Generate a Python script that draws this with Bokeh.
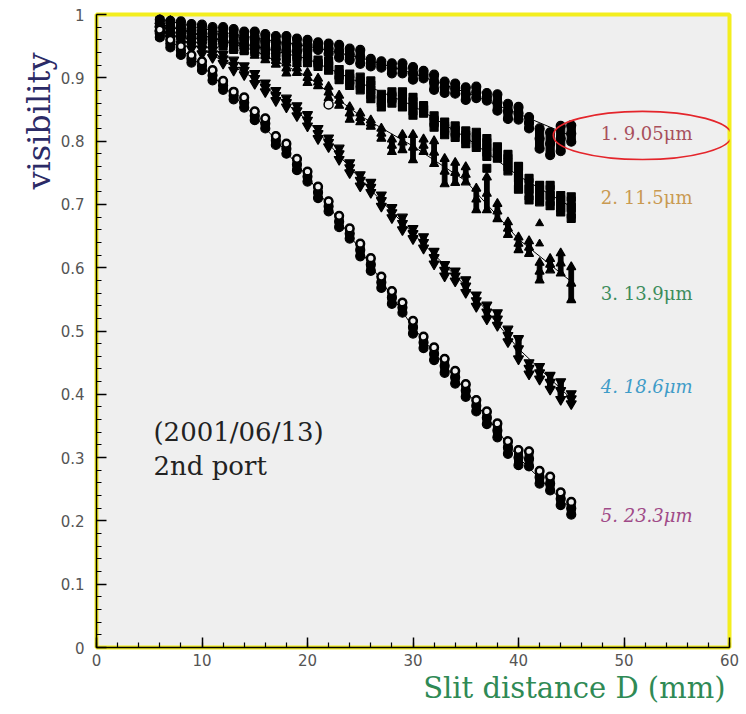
from bokeh.plotting import figure
from bokeh.models import Range1d, FixedTicker, Label, ColumnDataSource, Title
from bokeh.embed import file_html
from bokeh.resources import INLINE
from bokeh.core.properties import value

# Slit distance D (mm) of each measurement column
slit_d = [6, 7, 8, 9, 10, 11, 12, 13, 14, 15, 16, 17, 18, 19, 20, 21, 22, 23, 24, 25,
          26, 27, 28, 29, 30, 31, 32, 33, 34, 35, 36, 37, 38, 39, 40, 41, 42, 43, 44, 45]

# Mean visibility and half-spread of the repeated readings, one pair per source size
vis_905 = [0.982, 0.980, 0.978, 0.975, 0.973, 0.970, 0.968, 0.966, 0.963, 0.961,
           0.958, 0.956, 0.954, 0.952, 0.952, 0.950, 0.946, 0.942, 0.937, 0.933,
           0.924, 0.921, 0.915, 0.915, 0.907, 0.905, 0.893, 0.885, 0.883, 0.875,
           0.877, 0.870, 0.861, 0.847, 0.844, 0.829, 0.804, 0.796, 0.804, 0.812]
spr_905 = [0.010, 0.010, 0.011, 0.010, 0.011, 0.010, 0.012, 0.011, 0.010, 0.012,
           0.011, 0.010, 0.012, 0.010, 0.008, 0.006, 0.008, 0.010, 0.009, 0.011,
           0.006, 0.005, 0.008, 0.008, 0.010, 0.006, 0.012, 0.009, 0.008, 0.010,
           0.009, 0.006, 0.013, 0.012, 0.010, 0.009, 0.016, 0.018, 0.020, 0.013]

vis_115 = [0.978, 0.975, 0.972, 0.969, 0.966, 0.963, 0.960, 0.957, 0.954, 0.951,
           0.948, 0.944, 0.940, 0.936, 0.930, 0.923, 0.919, 0.905, 0.897, 0.891,
           0.881, 0.864, 0.869, 0.866, 0.855, 0.850, 0.831, 0.820, 0.815, 0.806,
           0.802, 0.790, 0.782, 0.766, 0.742, 0.724, 0.717, 0.714, 0.701, 0.695]
spr_115 = [0.012, 0.011, 0.012, 0.010, 0.012, 0.011, 0.010, 0.012, 0.011, 0.010,
           0.012, 0.011, 0.010, 0.009, 0.006, 0.005, 0.007, 0.008, 0.009, 0.010,
           0.014, 0.010, 0.009, 0.012, 0.014, 0.006, 0.009, 0.010, 0.009, 0.010,
           0.012, 0.014, 0.009, 0.013, 0.018, 0.017, 0.013, 0.016, 0.013, 0.017]

vis_139 = [0.985, 0.982, 0.978, 0.974, 0.970, 0.965, 0.960, 0.955, 0.950, 0.943,
           0.935, 0.927, 0.915, 0.915, 0.900, 0.893, 0.877, 0.864, 0.844, 0.837,
           0.828, 0.812, 0.793, 0.798, 0.790, 0.793, 0.782, 0.752, 0.750, 0.747,
           0.708, 0.717, 0.689, 0.662, 0.638, 0.632, 0.594, 0.605, 0.607, 0.575]
spr_139 = [0.008, 0.008, 0.007, 0.008, 0.007, 0.008, 0.007, 0.008, 0.007, 0.008,
           0.007, 0.006, 0.008, 0.007, 0.008, 0.006, 0.009, 0.008, 0.010, 0.007,
           0.005, 0.008, 0.010, 0.012, 0.020, 0.010, 0.018, 0.020, 0.016, 0.012,
           0.017, 0.026, 0.012, 0.010, 0.010, 0.010, 0.014, 0.009, 0.016, 0.026]

vis_186 = [0.976, 0.968, 0.960, 0.952, 0.945, 0.938, 0.930, 0.920, 0.912, 0.899,
           0.885, 0.872, 0.861, 0.848, 0.833, 0.812, 0.798, 0.780, 0.758, 0.738,
           0.727, 0.706, 0.687, 0.670, 0.654, 0.640, 0.616, 0.596, 0.587, 0.571,
           0.548, 0.530, 0.519, 0.493, 0.472, 0.441, 0.434, 0.419, 0.406, 0.393]
spr_186 = [0.006, 0.006, 0.007, 0.006, 0.007, 0.006, 0.007, 0.008, 0.007, 0.008,
           0.007, 0.008, 0.007, 0.008, 0.009, 0.008, 0.007, 0.009, 0.008, 0.009,
           0.008, 0.009, 0.008, 0.010, 0.008, 0.009, 0.010, 0.009, 0.008, 0.010,
           0.009, 0.011, 0.010, 0.010, 0.016, 0.009, 0.010, 0.011, 0.014, 0.008]

vis_233 = [0.970, 0.954, 0.943, 0.930, 0.919, 0.904, 0.888, 0.872, 0.861, 0.840,
           0.828, 0.801, 0.788, 0.763, 0.744, 0.719, 0.697, 0.673, 0.654, 0.628,
           0.605, 0.577, 0.553, 0.537, 0.506, 0.482, 0.464, 0.445, 0.427, 0.406,
           0.382, 0.363, 0.343, 0.316, 0.300, 0.298, 0.269, 0.259, 0.235, 0.220]
spr_233 = [0.006, 0.006, 0.007, 0.006, 0.007, 0.008, 0.007, 0.006, 0.008, 0.007,
           0.008, 0.007, 0.008, 0.009, 0.008, 0.009, 0.008, 0.009, 0.008, 0.010,
           0.010, 0.009, 0.010, 0.008, 0.010, 0.009, 0.010, 0.011, 0.010, 0.010,
           0.009, 0.010, 0.011, 0.010, 0.012, 0.012, 0.010, 0.011, 0.010, 0.010]

# Isolated readings away from their columns
stray_115_d, stray_115_v = [37], [0.757]
stray_139_d, stray_139_v = [42, 42], [0.670, 0.638]
stray_233_d, stray_233_v = [22], [0.858]

# Fitted visibility curves
fit_d = [6, 10, 15, 20, 25, 30, 35, 40, 45]
fit_905 = [0.993, 0.978, 0.963, 0.950, 0.932, 0.907, 0.877, 0.843, 0.808]
fit_115 = [0.985, 0.966, 0.950, 0.930, 0.892, 0.856, 0.806, 0.745, 0.696]
fit_139 = [0.985, 0.968, 0.943, 0.902, 0.840, 0.792, 0.737, 0.645, 0.578]
fit_186 = [0.978, 0.945, 0.899, 0.833, 0.740, 0.654, 0.571, 0.472, 0.393]
fit_233 = [0.972, 0.919, 0.840, 0.744, 0.628, 0.506, 0.406, 0.300, 0.218]

# Curve labels
size_labels = ["1. 9.05\u03bcm", "2. 11.5\u03bcm", "3. 13.9\u03bcm", "4. 18.6\u03bcm", "5. 23.3\u03bcm"]
label_vis = [0.812, 0.711, 0.559, 0.412, 0.209]
label_colors = ["#a8505c", "#c99a52", "#3c8c5c", "#3f9cc8", "#a04a88"]
label_styles = ["normal", "normal", "normal", "italic", "italic"]
label_d = 47.8

x_ticks = [0, 10, 20, 30, 40, 50, 60]
x_minor = [0, 2, 4, 6, 8, 10, 12, 14, 16, 18, 20, 22, 24, 26, 28, 30, 32, 34, 36, 38,
           40, 42, 44, 46, 48, 50, 52, 54, 56, 58, 60]
y_ticks = [0, 0.1, 0.2, 0.3, 0.4, 0.5, 0.6, 0.7, 0.8, 0.9, 1.0]
y_tick_labels = ["0", "0.1", "0.2", "0.3", "0.4", "0.5", "0.6", "0.7", "0.8", "0.9", "1"]
y_minor = [0.00, 0.02, 0.04, 0.06, 0.08, 0.10, 0.12, 0.14, 0.16, 0.18, 0.20, 0.22, 0.24,
           0.26, 0.28, 0.30, 0.32, 0.34, 0.36, 0.38, 0.40, 0.42, 0.44, 0.46, 0.48, 0.50,
           0.52, 0.54, 0.56, 0.58, 0.60, 0.62, 0.64, 0.66, 0.68, 0.70, 0.72, 0.74, 0.76,
           0.78, 0.80, 0.82, 0.84, 0.86, 0.88, 0.90, 0.92, 0.94, 0.96, 0.98, 1.00]

p = figure(width=746, height=714, output_backend="svg", toolbar_location=None,
           title=None, x_range=Range1d(0, 60), y_range=Range1d(0, 1),
           min_border_left=96, min_border_right=17, min_border_top=14,
           min_border_bottom=67)

p.background_fill_color = "#efefef"
p.border_fill_color = "white"
p.outline_line_color = "#f3ee1e"
p.outline_line_width = 4
p.xgrid.grid_line_color = None
p.ygrid.grid_line_color = None

for ax in (p.xaxis, p.yaxis):
    ax.axis_line_color = "black"
    ax.axis_line_width = 1.5
    ax.major_tick_in = 10
    ax.major_tick_out = 0
    ax.minor_tick_in = 5
    ax.minor_tick_out = 0
    ax.major_tick_line_color = "black"
    ax.minor_tick_line_color = "black"
    ax.major_tick_line_width = 1.5
    ax.minor_tick_line_width = 1.2
    ax.major_label_text_font = "DejaVu Sans"
    ax.major_label_text_font_size = "15px"
    ax.major_label_text_color = "#555555"

p.xaxis.ticker = FixedTicker(ticks=x_ticks, minor_ticks=x_minor)
p.yaxis.ticker = FixedTicker(ticks=y_ticks, minor_ticks=y_minor)
p.yaxis.major_label_overrides = dict(zip(y_ticks, y_tick_labels))
p.xaxis.major_label_standoff = 6
p.yaxis.major_label_standoff = 12

# axis titles, pushed toward the upper / right ends of their axes
p.add_layout(Title(text="visibility", align="right", offset=38, standoff=0,
                   text_font="DejaVu Serif", text_font_size="32px",
                   text_font_style="normal", text_color="#2b2a66"), "left")
p.add_layout(Title(text="Slit distance D (mm)", align="right", offset=4, standoff=0,
                   text_font="DejaVu Serif", text_font_size="29px",
                   text_font_style="normal", text_color="#2f8a55"), "below")

# fitted curves underneath the data
for fit in (fit_905, fit_115, fit_139, fit_186, fit_233):
    p.line(fit_d, fit, line_color="black", line_width=1)

series = [
    (vis_905, spr_905, "circle", 9, 0.78, "black"),
    (vis_115, spr_115, "square", 8, 0.76, "black"),
    (vis_139, spr_139, "triangle", 9, 0.45, "black"),
    (vis_186, spr_186, "inverted_triangle", 10, 0.5, "black"),
    (vis_233, spr_233, "circle", 9, 0.75, "black"),
]

for vis, spr, marker, size, bar_w, end_fill in series:
    lo = [v - s for v, s in zip(vis, spr)]
    hi = [v + s for v, s in zip(vis, spr)]
    src = ColumnDataSource(dict(d=slit_d, v=vis, lo=lo, hi=hi))
    p.vbar(x="d", bottom="lo", top="hi", width=bar_w, source=src,
           fill_color="black", line_color="black")
    for col in ("lo", "v", "hi"):
        p.scatter(x="d", y=col, marker=marker, size=size, source=src,
                  fill_color=end_fill, line_color="black", line_width=1.2)

# open rings topping the 23.3 um columns
ring_src = ColumnDataSource(dict(d=slit_d, hi=[v + s for v, s in zip(vis_233, spr_233)]))
p.scatter(x="d", y="hi", marker="circle", size=7, source=ring_src,
          fill_color="#efefef", line_color="black", line_width=1.8)

p.scatter(stray_115_d, stray_115_v, marker="square", size=8, color="black")
p.scatter(stray_139_d, stray_139_v, marker="triangle", size=8, color="black")
p.scatter(stray_233_d, stray_233_v, marker="circle", size=9,
          fill_color="#efefef", line_color="black", line_width=1.5)

lab_src = ColumnDataSource(dict(x=[label_d] * 5, y=label_vis, t=size_labels,
                                c=label_colors, s=label_styles))
p.text(x="x", y="y", text="t", text_color="c", text_font_style="s", source=lab_src,
       text_font=value("DejaVu Serif"), text_font_size=value("18px"),
       text_align="left", text_baseline="middle")

# highlight around the first curve's label
p.ellipse(x=[51.75], y=[label_vis[0] - 0.003], width=[16.9], height=[0.076],
          fill_color=None, line_color="#e4252b", line_width=1.6)

p.add_layout(Label(x=5.4, y=0.340, text="(2001/06/13)", text_font="DejaVu Serif",
                   text_font_size="26px", text_color="#222222",
                   text_align="left", text_baseline="middle"))
p.add_layout(Label(x=5.4, y=0.287, text="2nd port", text_font="DejaVu Serif",
                   text_font_size="26px", text_color="#222222",
                   text_align="left", text_baseline="middle"))

open("out.html", "w").write(file_html(p, INLINE))
